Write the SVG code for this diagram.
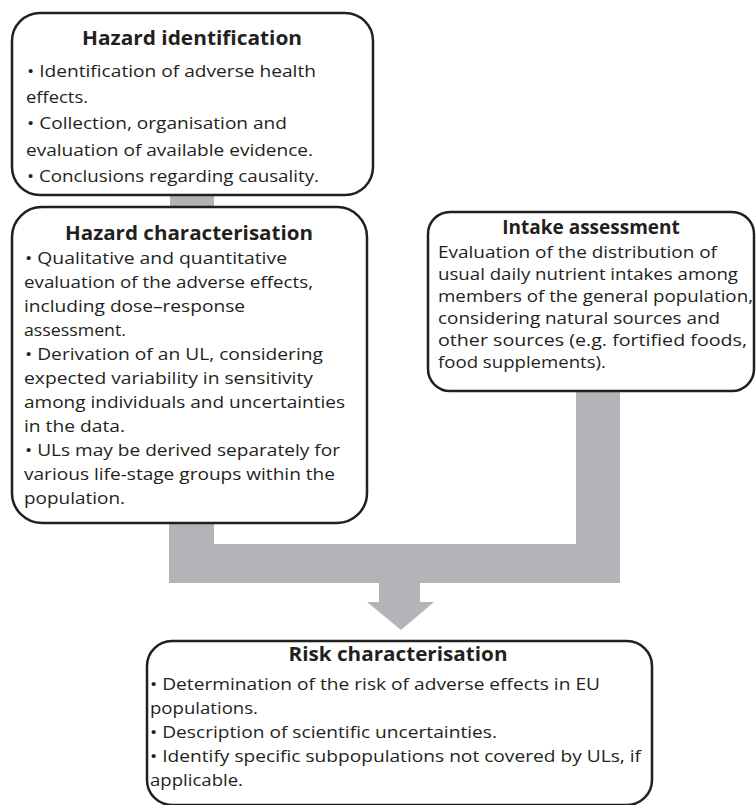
<svg xmlns="http://www.w3.org/2000/svg" width="756" height="805" viewBox="0 0 756 805">
<style>
.box{fill:#fff;stroke:#231f20;stroke-width:2.5}
.conn{fill:#b3b4b8;stroke:none}
.t{font-family:"Open Sans","Liberation Sans",sans-serif;font-weight:bold;font-size:19.5px;fill:#231f20;text-anchor:middle}
.b{font-family:"Open Sans","Liberation Sans",sans-serif;font-size:17.2px;fill:#231f20}
</style>
<rect width="756" height="805" fill="#fff"/>
<g id="connectors">
<rect class="conn" x="170" y="190" width="44" height="22"/>
<rect class="conn" x="169" y="518" width="45" height="65"/>
<rect class="conn" x="576" y="386" width="44" height="197"/>
<rect class="conn" x="169" y="544" width="451" height="39"/>
<path class="conn" d="M379,582 H420 V602 H434 L401,630 L367,602 H379 Z"/>
</g>
<g id="hazard-identification">
<rect class="box" x="12" y="13" width="361" height="182" rx="28"/>
<text class="t" x="192" y="45" textLength="220" lengthAdjust="spacingAndGlyphs">Hazard identification</text>
<text class="b" x="27" y="77" textLength="289" lengthAdjust="spacingAndGlyphs">• Identification of adverse health</text>
<text class="b" x="26" y="103" textLength="62" lengthAdjust="spacingAndGlyphs">effects.</text>
<text class="b" x="27" y="129" textLength="260" lengthAdjust="spacingAndGlyphs">• Collection, organisation and</text>
<text class="b" x="26" y="156" textLength="287" lengthAdjust="spacingAndGlyphs">evaluation of available evidence.</text>
<text class="b" x="27" y="182" textLength="292" lengthAdjust="spacingAndGlyphs">• Conclusions regarding causality.</text>
</g>
<g id="hazard-characterisation">
<rect class="box" x="12" y="207" width="355" height="316" rx="30"/>
<text class="t" x="189" y="240" textLength="248" lengthAdjust="spacingAndGlyphs">Hazard characterisation</text>
<text class="b" x="25" y="264" textLength="262" lengthAdjust="spacingAndGlyphs">• Qualitative and quantitative</text>
<text class="b" x="24" y="288" textLength="289" lengthAdjust="spacingAndGlyphs">evaluation of the adverse effects,</text>
<text class="b" x="24" y="312" textLength="221" lengthAdjust="spacingAndGlyphs">including dose–response</text>
<text class="b" x="24" y="336" textLength="102" lengthAdjust="spacingAndGlyphs">assessment.</text>
<text class="b" x="25" y="360" textLength="298" lengthAdjust="spacingAndGlyphs">• Derivation of an UL, considering</text>
<text class="b" x="24" y="384" textLength="289" lengthAdjust="spacingAndGlyphs">expected variability in sensitivity</text>
<text class="b" x="24" y="408" textLength="321" lengthAdjust="spacingAndGlyphs">among individuals and uncertainties</text>
<text class="b" x="24" y="432" textLength="101" lengthAdjust="spacingAndGlyphs">in the data.</text>
<text class="b" x="25" y="456" textLength="315" lengthAdjust="spacingAndGlyphs">• ULs may be derived separately for</text>
<text class="b" x="24" y="480" textLength="311" lengthAdjust="spacingAndGlyphs">various life-stage groups within the</text>
<text class="b" x="24" y="504" textLength="101" lengthAdjust="spacingAndGlyphs">population.</text>
</g>
<g id="intake-assessment">
<rect class="box" x="428" y="212" width="326" height="179" rx="22"/>
<text class="t" x="591" y="234" style="font-size:19px">Intake assessment</text>
<text class="b" x="438" y="258" textLength="279" lengthAdjust="spacingAndGlyphs">Evaluation of the distribution of</text>
<text class="b" x="438" y="280" textLength="300" lengthAdjust="spacingAndGlyphs">usual daily nutrient intakes among</text>
<text class="b" x="438" y="302" textLength="315" lengthAdjust="spacingAndGlyphs">members of the general population,</text>
<text class="b" x="438" y="324" textLength="282" lengthAdjust="spacingAndGlyphs">considering natural sources and</text>
<text class="b" x="438" y="346" textLength="309" lengthAdjust="spacingAndGlyphs">other sources (e.g. fortified foods,</text>
<text class="b" x="438" y="368" textLength="168" lengthAdjust="spacingAndGlyphs">food supplements).</text>
</g>
<g id="risk-characterisation">
<rect class="box" x="147" y="641" width="505" height="164" rx="25"/>
<text class="t" x="398" y="661" textLength="219" lengthAdjust="spacingAndGlyphs">Risk characterisation</text>
<text class="b" x="150" y="690" textLength="450" lengthAdjust="spacingAndGlyphs">• Determination of the risk of adverse effects in EU</text>
<text class="b" x="150" y="714" textLength="108" lengthAdjust="spacingAndGlyphs">populations.</text>
<text class="b" x="150" y="738" textLength="347" lengthAdjust="spacingAndGlyphs">• Description of scientific uncertainties.</text>
<text class="b" x="150" y="762" textLength="491" lengthAdjust="spacingAndGlyphs">• Identify specific subpopulations not covered by ULs, if</text>
<text class="b" x="150" y="786" textLength="93" lengthAdjust="spacingAndGlyphs">applicable.</text>
</g>
</svg>
